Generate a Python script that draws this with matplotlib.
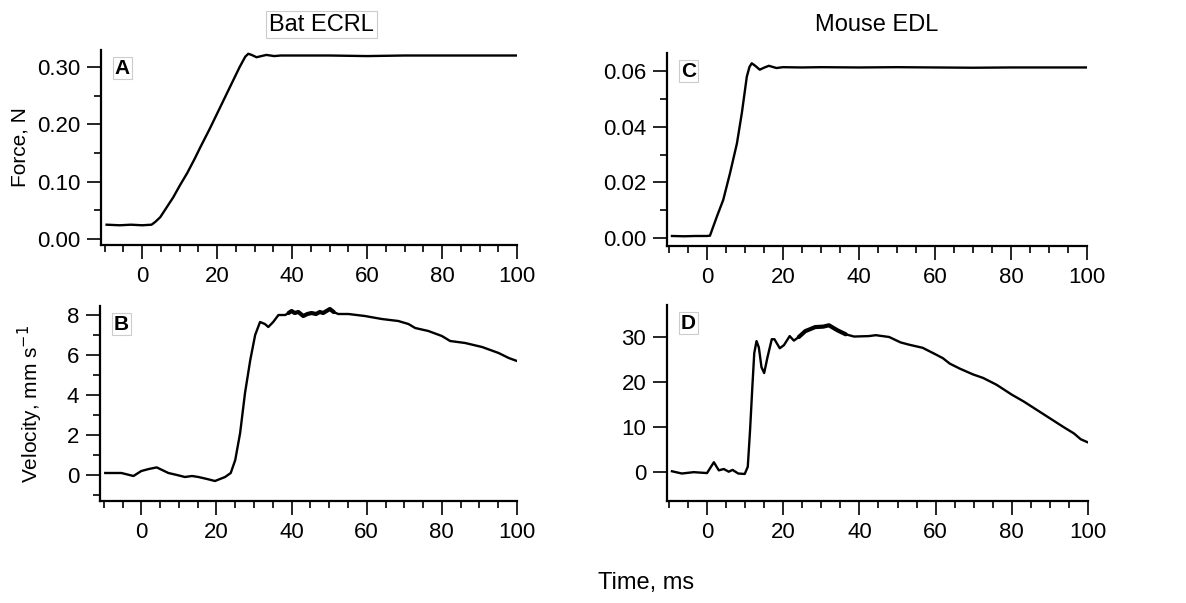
import numpy as np
import matplotlib.pyplot as plt
from matplotlib.ticker import MultipleLocator, FormatStrFormatter

plt.rcParams['font.family'] = ['Liberation Sans', 'DejaVu Sans']

# Panel A - bat ECRL force (N)
bat_force_t = [-9.5, -6, -3, 0, 2.5, 3.5, 4.8, 6.5, 8.3, 10, 12, 14, 15.5, 18, 20, 22, 24, 26, 27.5,
               28.3, 29.2, 30.5, 31.8, 33.1, 34.2, 35.2, 37, 40, 50, 60, 70, 80, 90, 100]
bat_force = [0.025, 0.024, 0.025, 0.024, 0.025, 0.030, 0.038, 0.055, 0.073, 0.093, 0.115, 0.140, 0.160,
             0.192, 0.219, 0.246, 0.273, 0.300, 0.318, 0.323, 0.321, 0.317, 0.319, 0.321, 0.320, 0.319,
             0.320, 0.320, 0.320, 0.319, 0.320, 0.320, 0.320, 0.320]

# Panel B - bat ECRL velocity (mm/s)
bat_vel_t = [-9.6, -5.3, -2.1, 0, 2, 4.1, 7.2, 9.5, 11.6, 13.5, 15.2, 17.5, 19.6, 22.3, 23.8, 25, 26.3,
             27.6, 29, 30.3, 31.6, 32.9, 33.8, 35.1, 36.5, 38.3, 39.2, 40, 40.8, 41.8, 43.1, 44.2, 45.3,
             46.5, 47.5, 48.4, 49.3, 50.2, 51.2, 52.4, 55.1, 59.5, 64, 68.4, 71.1, 72.9, 76.4, 80, 82.2,
             86.2, 90.7, 95.1, 97.8, 100]
bat_vel = [0.1, 0.1, -0.05, 0.2, 0.3, 0.38, 0.1, 0.0, -0.1, -0.05, -0.1, -0.2, -0.3, -0.1, 0.1, 0.75,
           2.1, 4.1, 5.75, 7.0, 7.65, 7.55, 7.4, 7.65, 8.0, 8.0, 8.1, 8.2, 8.1, 8.15, 7.95, 8.05, 8.1,
           8.05, 8.15, 8.1, 8.2, 8.3, 8.15, 8.05, 8.05, 7.95, 7.8, 7.7, 7.55, 7.35, 7.2, 6.95, 6.7,
           6.6, 6.4, 6.1, 5.85, 5.7]

# Panel C - mouse EDL force (N)
mouse_force_t = [-9.2, -6, -3, 0, 0.8, 2.6, 4.3, 6.1, 7.9, 9.2, 10.5, 11.2, 11.8, 12.8, 13.9, 15.0, 16.3,
                 18.3, 20, 25, 30, 40, 50, 60, 70, 80, 90, 100]
mouse_force = [0.0007, 0.0006, 0.0007, 0.0007, 0.0008, 0.0076, 0.0137, 0.0234, 0.034, 0.045, 0.058,
               0.0615, 0.0628, 0.0618, 0.0605, 0.0612, 0.0619, 0.0611, 0.0614, 0.0613, 0.0614, 0.0613,
               0.0614, 0.0613, 0.0612, 0.0613, 0.0613, 0.0613]

# Panel D - mouse EDL velocity (mm/s)
mouse_vel_t = [-9.2, -6.6, -3.5, 0, 1.8, 3.1, 4.4, 5.7, 6.7, 8.2, 9.9, 10.7, 11.3, 11.9, 12.4, 13.0,
               13.6, 14.3, 15.0, 15.9, 17.0, 17.7, 19.1, 20.2, 21.7, 22.8, 24.1, 25.8, 28.4, 30.5, 32.0,
               34.2, 36.4, 38.6, 42.5, 44.3, 47.8, 50.8, 53.0, 56.6, 60.1, 61.9, 63.7, 66.3, 69.8, 72.5,
               76.0, 80.0, 83.1, 86.6, 90.1, 93.6, 96.3, 98.1, 100]
mouse_vel = [0.2, -0.3, 0.0, -0.2, 2.2, 0.4, 0.7, 0.1, 0.5, -0.3, -0.4, 1.2, 9.3, 18.9, 26.4, 29.1, 27.7,
             23.3, 22.0, 25.6, 29.5, 29.5, 27.5, 28.2, 30.2, 29.2, 30.0, 31.3, 32.2, 32.3, 32.6, 31.5,
             30.6, 30.1, 30.2, 30.4, 30.0, 28.8, 28.3, 27.6, 26.1, 25.3, 24.1, 23.0, 21.7, 20.9, 19.4,
             17.2, 15.7, 13.8, 11.9, 10.0, 8.6, 7.3, 6.6]

W, H = 1186, 603
fig = plt.figure(figsize=(W / 100, H / 100), dpi=100)


def px_axes(left, top, right, bottom):
    return fig.add_axes([left / W, 1 - bottom / H, (right - left) / W, (bottom - top) / H])


def style(ax, xlim, ylim, ymaj, ymin, fmt, label):
    ax.set_xlim(*xlim)
    ax.set_ylim(*ylim)
    for s in ['top', 'right']:
        ax.spines[s].set_visible(False)
    for s in ['left', 'bottom']:
        ax.spines[s].set_linewidth(1.6)
    ax.xaxis.set_major_locator(MultipleLocator(20))
    ax.xaxis.set_minor_locator(MultipleLocator(5))
    ax.yaxis.set_major_locator(MultipleLocator(ymaj))
    if ymin:
        ax.yaxis.set_minor_locator(MultipleLocator(ymin))
    if fmt:
        ax.yaxis.set_major_formatter(FormatStrFormatter(fmt))
    ax.tick_params(which='major', length=10, width=1.2, labelsize=16, pad=5)
    ax.tick_params(which='minor', length=5, width=1.2)
    ax.text(0.033, 0.955, label, transform=ax.transAxes, fontsize=15, fontweight='bold',
            va='top', ha='left',
            bbox=dict(boxstyle='square,pad=0.08', fc='white', ec='#cccccc', lw=0.8))


def trace(ax, t, v, noisy):
    ax.plot(t, v, color='black', lw=1.7)
    # the noisier stretch of the recording shows up as a thicker trace
    t = np.asarray(t)
    sel = (t >= noisy[0]) & (t <= noisy[1])
    ax.plot(t[sel], np.asarray(v)[sel], color='black', lw=3.0, solid_capstyle='round')


axA = px_axes(101, 50, 517, 245)
axA.plot(bat_force_t, bat_force, color='black', lw=1.7)
style(axA, (-11, 100), (-0.0104, 0.3296), 0.1, 0.05, '%.2f', 'A')
axA.set_ylabel('Force, N', fontsize=15, labelpad=5)
axA.set_title('Bat ECRL', fontsize=17, pad=14, x=0.53,
              bbox=dict(boxstyle='square,pad=0.12', fc='white', ec='#cccccc', lw=0.8))

axB = px_axes(100, 306, 517, 501)
trace(axB, bat_vel_t, bat_vel, (39, 52))
style(axB, (-11, 100), (-1.3, 8.45), 2, 1, None, 'B')
axB.set_ylabel('Velocity, mm s$^{-1}$', fontsize=15, labelpad=16)

axC = px_axes(667, 53, 1087, 246)
axC.plot(mouse_force_t, mouse_force, color='black', lw=1.7)
style(axC, (-10.5, 100), (-0.0029, 0.0665), 0.02, 0.01, '%.2f', 'C')
axC.set_title('Mouse EDL', fontsize=17, pad=16)

axD = px_axes(667, 305, 1088, 501)
trace(axD, mouse_vel_t, mouse_vel, (24, 37))
style(axD, (-10.5, 100), (-6.4, 37.1), 10, None, None, 'D')

fig.text(646 / W, 1 - 583 / H, 'Time, ms', ha='center', va='center', fontsize=17)

fig.savefig('out.png', dpi=100)
